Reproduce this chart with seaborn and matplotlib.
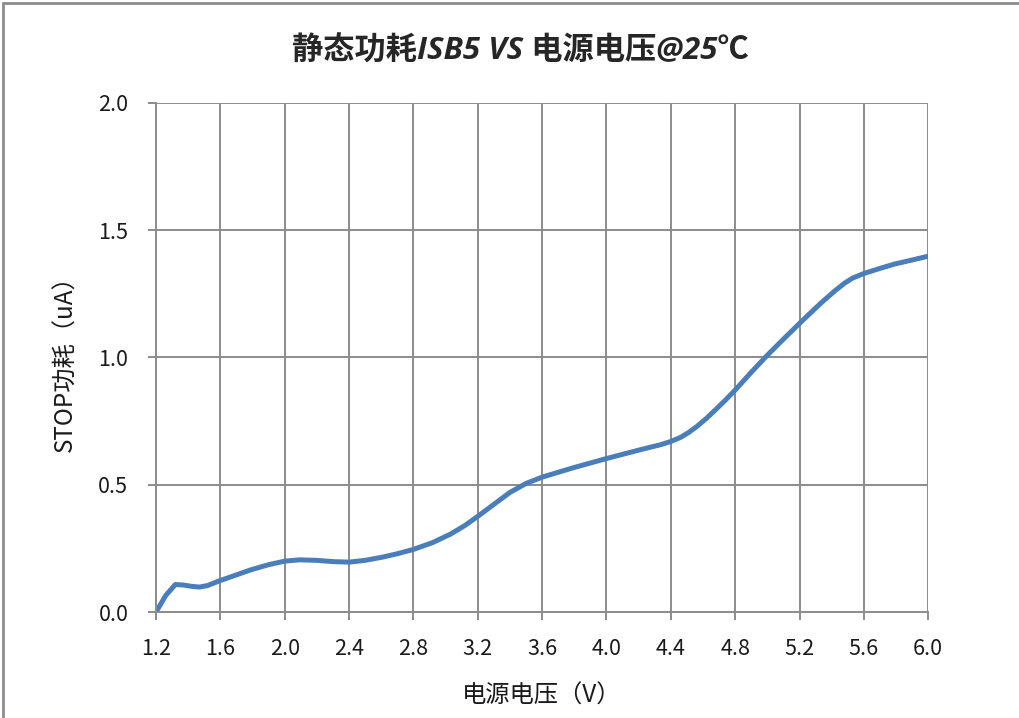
import numpy as np
import pandas as pd
import matplotlib
matplotlib.use("Agg")
import matplotlib.pyplot as plt
import seaborn as sns
from matplotlib.patches import Rectangle

# --- DATA ---
voltage = [1.20, 1.26, 1.32, 1.37, 1.42, 1.47, 1.52, 1.60, 1.70, 1.79, 1.90, 2.00,
           2.09, 2.20, 2.30, 2.40, 2.50, 2.61, 2.70, 2.80, 2.92, 3.03, 3.12, 3.20,
           3.30, 3.40, 3.50, 3.60, 3.80, 4.00, 4.20, 4.34, 4.40, 4.46, 4.51, 4.56,
           4.62, 4.68, 4.74, 4.80, 4.90, 5.00, 5.10, 5.20, 5.33, 5.42, 5.48, 5.53,
           5.60, 5.70, 5.79, 5.90, 6.00]
current = [0.000, 0.065, 0.108, 0.106, 0.101, 0.098, 0.104, 0.124, 0.146, 0.166, 0.186, 0.200,
           0.205, 0.203, 0.198, 0.196, 0.203, 0.216, 0.229, 0.246, 0.273, 0.306, 0.340, 0.376,
           0.423, 0.470, 0.505, 0.530, 0.568, 0.603, 0.636, 0.658, 0.670, 0.686, 0.705, 0.728,
           0.760, 0.796, 0.833, 0.872, 0.942, 1.009, 1.072, 1.134, 1.212, 1.262, 1.292, 1.312,
           1.330, 1.350, 1.367, 1.383, 1.398]

x_ticks = [1.2, 1.6, 2.0, 2.4, 2.8, 3.2, 3.6, 4.0, 4.4, 4.8, 5.2, 5.6, 6.0]
y_ticks = [0.0, 0.5, 1.0, 1.5, 2.0]

title = "静态功耗ISB5 VS 电源电压@25℃"
x_label = "电源电压（V）"
y_label = "STOP功耗（uA）"

df = pd.DataFrame({"voltage": voltage, "current": current})

# --- STYLE ---
sns.set_theme(style="white")
plt.rcParams["font.family"] = ["Noto Sans CJK SC", "DejaVu Sans"]

fig = plt.figure(figsize=(10.2, 7.18), dpi=100)
ax = fig.add_axes([0.153, 0.1476, 0.757, 0.709])

sns.lineplot(data=df, x="voltage", y="current", ax=ax, color="#4A7EBB",
             linewidth=3.6, solid_joinstyle="round", solid_capstyle="round",
             sort=False)

ax.set_xlim(1.2, 6.0)
ax.set_ylim(0.0, 2.0)
ax.set_xticks(x_ticks)
ax.set_yticks(y_ticks)
ax.set_xticklabels([f"{v:.1f}" for v in x_ticks])
ax.set_yticklabels([f"{v:.1f}" for v in y_ticks])

grid_c = "#8c8c8c"
ax.grid(True, color=grid_c, linewidth=1.4)
ax.set_axisbelow(True)
for s in ["top", "right"]:
    ax.spines[s].set_visible(False)
for s in ["left", "bottom"]:
    ax.spines[s].set_color(grid_c)
    ax.spines[s].set_linewidth(1.4)

ax.tick_params(axis="both", which="major", direction="out", length=6, width=1.4,
               color=grid_c, labelsize=15.5, labelcolor="#1a1a1a")
ax.tick_params(axis="x", pad=13, bottom=True)
ax.tick_params(axis="y", pad=14, left=True)

ax.set_xlabel(x_label, fontsize=17.5, labelpad=16, color="#1a1a1a")
ax.set_ylabel(y_label, fontsize=17.5, labelpad=14, color="#1a1a1a")

fig.text(0.51, 0.928, title, ha="center", va="center", fontsize=22.5,
         fontweight="bold", fontstyle="italic",
         family=["Open Sans", "Noto Sans CJK SC"])

# chart area border
fig.patches.append(Rectangle((0.003, -0.05), 1.2, 1.046, transform=fig.transFigure,
                             fill=False, edgecolor="#8c8c8c", linewidth=2))

fig.savefig("out.png", dpi=100)
